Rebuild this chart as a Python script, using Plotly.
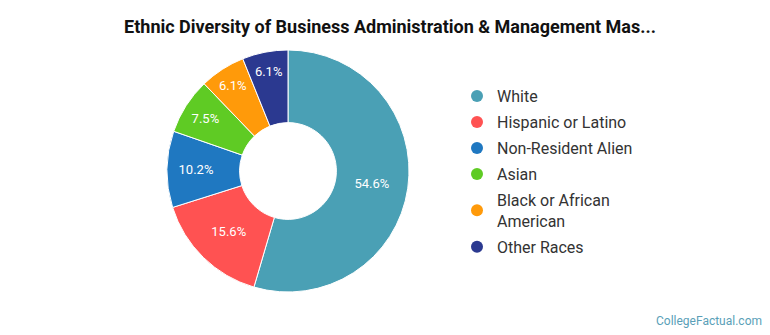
import plotly.graph_objects as go

categories = ["White", "Hispanic or Latino", "Non-Resident Alien", "Asian",
              "Black or African American", "Other Races"]
legend_labels = ["White", "Hispanic or Latino", "Non-Resident Alien", "Asian",
                 "Black or African<br>American", "Other Races"]
values = [54.6, 15.6, 10.2, 7.5, 6.1, 6.1]
colors = ["#4AA0B5", "#FF5252", "#1F78C1", "#5FCB24", "#FF9A0A", "#2B3990"]

W, H = 770, 335
cx, cy, r = 288, 171, 121

fig = go.Figure()
fig.add_trace(go.Pie(
    labels=categories, values=values, sort=False, direction="clockwise",
    rotation=0, hole=0.4,
    marker=dict(colors=colors, line=dict(color="white", width=1)),
    texttemplate="%{value}%", textposition="inside",
    insidetextorientation="horizontal",
    textfont=dict(family="Roboto", size=13, color="white"),
    showlegend=False, hoverinfo="label+value",
    domain=dict(x=[(cx - r) / W, (cx + r) / W],
                y=[(H - cy - r) / H, (H - cy + r) / H]),
))
for i, (lab, col) in enumerate(zip(legend_labels, colors)):
    fig.add_trace(go.Scatter(x=[None], y=[None], mode="markers", name=lab,
                             legendgroup=f"g{i}",
                             marker=dict(size=16, color=col, symbol="circle")))

fig.update_layout(
    width=W, height=H, margin=dict(l=0, r=0, t=0, b=0),
    paper_bgcolor="white", plot_bgcolor="white",
    xaxis=dict(visible=False), yaxis=dict(visible=False),
    title=dict(text="<b>Ethnic Diversity of Business Administration &amp; Management Mas...</b>",
               x=390 / W, xanchor="center", y=(H - 27) / H, yanchor="middle",
               font=dict(family="Roboto", size=18, color="#111")),
    legend=dict(x=457 / W, xanchor="left", y=(H - 79) / H, yanchor="top",
                font=dict(family="Roboto", size=16, color="#333"),
                itemsizing="constant", tracegroupgap=2.2),
    annotations=[dict(text="CollegeFactual.com", x=(W - 6) / W, y=(H - 321) / H,
                      xref="paper", yref="paper", xanchor="right", yanchor="middle",
                      showarrow=False,
                      font=dict(family="Roboto", size=12, color="#5A9FB8"))],
)
fig.write_html("out.html")
